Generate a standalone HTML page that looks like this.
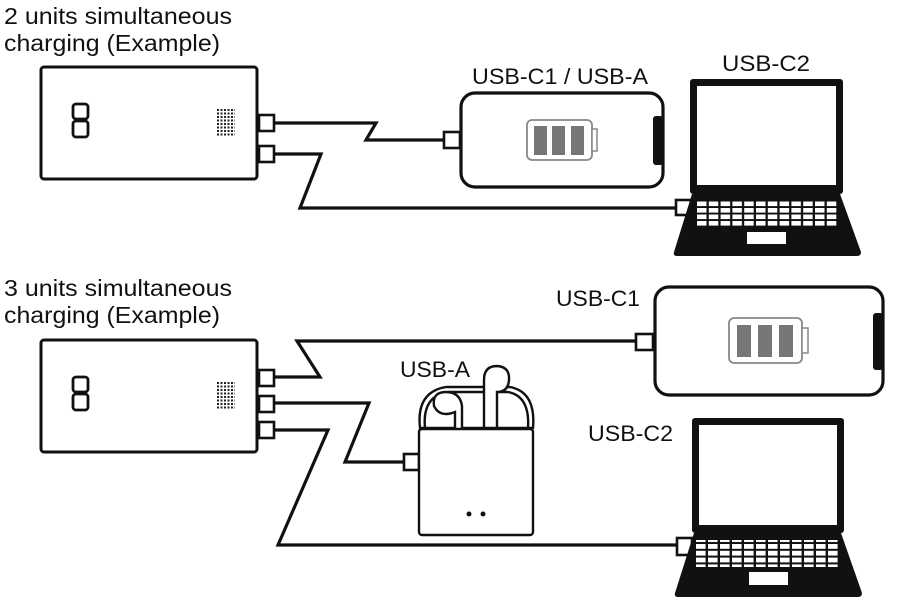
<!DOCTYPE html>
<html><head><meta charset="utf-8"><style>
html,body{margin:0;padding:0;background:#fff;}
svg{display:block;}
text{font-family:"Liberation Sans",Arial,sans-serif;fill:#111;}
</style></head><body>
<svg width="901" height="614" viewBox="0 0 901 614" xmlns="http://www.w3.org/2000/svg">
<defs>
<pattern id="dots" x="0" y="0" width="3.5" height="3.5" patternUnits="userSpaceOnUse"><rect width="2" height="2" fill="#222"/></pattern>
<pattern id="keysT" x="697" y="0" width="11.8" height="6.5" patternUnits="userSpaceOnUse"><rect width="9.5" height="4.6" fill="#fff"/></pattern>
<pattern id="keysB" x="696" y="0" width="12" height="6.8" patternUnits="userSpaceOnUse"><rect width="9.6" height="4.8" fill="#fff"/></pattern>
<g id="bank">
 <rect x="41" y="0" width="216" height="112" rx="3" fill="#fff" stroke="#111" stroke-width="3"/>
 <rect x="73" y="37" width="15" height="15" rx="3" fill="none" stroke="#111" stroke-width="2.8"/>
 <rect x="73" y="54" width="15" height="16" rx="3" fill="none" stroke="#111" stroke-width="2.8"/>
 <rect x="216" y="42" width="19" height="27" fill="url(#dots)"/>
</g>
</defs>
<text x="4" y="24" font-size="23" textLength="228" lengthAdjust="spacingAndGlyphs">2 units simultaneous</text>
<text x="4" y="51" font-size="23" textLength="216" lengthAdjust="spacingAndGlyphs">charging (Example)</text>
<text x="4" y="296" font-size="23" textLength="228" lengthAdjust="spacingAndGlyphs">3 units simultaneous</text>
<text x="4" y="323" font-size="23" textLength="216" lengthAdjust="spacingAndGlyphs">charging (Example)</text>

<!-- TOP -->
<use href="#bank" y="67"/>
<g fill="none" stroke="#111" stroke-width="3.2" stroke-linejoin="miter">
<polyline points="274,123 376,123 366,140 446,140"/>
<polyline points="274,154 321,154 300,208 676,208"/>
</g>
<g fill="#fff" stroke="#111" stroke-width="2.6">
<rect x="259" y="115" width="15" height="16"/>
<rect x="259" y="146" width="15" height="16"/>
<rect x="444" y="132" width="16" height="16"/>
<rect x="676" y="200" width="15" height="15"/>
</g>
<text x="472" y="84" font-size="22" textLength="176" lengthAdjust="spacingAndGlyphs">USB-C1 / USB-A</text>
<text x="722" y="71" font-size="22" textLength="88" lengthAdjust="spacingAndGlyphs">USB-C2</text>
<!-- phone top -->
<rect x="461" y="93" width="202" height="94" rx="14" fill="#fff" stroke="#111" stroke-width="3.2"/>
<rect x="653" y="116" width="10" height="49" rx="3" fill="#111"/>
<rect x="527" y="120" width="65" height="40" rx="5" fill="#fff" stroke="#888" stroke-width="1.8"/>
<rect x="592" y="129" width="5" height="22" fill="#fff" stroke="#888" stroke-width="1.5"/>
<rect x="534" y="126" width="13" height="29" fill="#777"/>
<rect x="552" y="126" width="13" height="29" fill="#777"/>
<rect x="571" y="126" width="13" height="29" fill="#777"/>
<!-- laptop top -->
<rect x="690" y="79" width="153" height="115" rx="3" fill="#111"/>
<rect x="697" y="86" width="139" height="99" fill="#fff"/>
<path d="M692,194 L840,194 L861,252 Q861,256 857,256 L677,256 Q673,256 674,252 Z" fill="#111"/>
<rect x="697" y="201" width="141" height="25" fill="url(#keysT)"/>
<rect x="747" y="232" width="39" height="12" fill="#fff"/>

<!-- BOTTOM -->
<use href="#bank" y="340"/>
<g fill="none" stroke="#111" stroke-width="3.2">
<polyline points="274,377 320,377 297,341 636,341"/>
<polyline points="274,403 369,403 345,462 407,462"/>
<polyline points="274,430 328,430 278,545 677,545"/>
</g>
<g fill="#fff" stroke="#111" stroke-width="2.6">
<rect x="259" y="370" width="15" height="16"/>
<rect x="259" y="396" width="15" height="16"/>
<rect x="259" y="422" width="15" height="16"/>
<rect x="404" y="454" width="15" height="16"/>
<rect x="636" y="334" width="17" height="16"/>
<rect x="677" y="538" width="15" height="17"/>
</g>
<text x="556" y="306" font-size="22" textLength="84" lengthAdjust="spacingAndGlyphs">USB-C1</text>
<text x="588" y="441" font-size="22" textLength="85" lengthAdjust="spacingAndGlyphs">USB-C2</text>
<text x="400" y="377" font-size="22" textLength="70" lengthAdjust="spacingAndGlyphs">USB-A</text>
<!-- airpods case -->
<g fill="#fff" stroke="#111" stroke-width="2.4">
<path d="M420,428 Q416,392 446,387 L510,387 Q536,392 533,428 Z"/>
<path d="M425,428 Q422,396 448,392 L508,392 Q530,396 528,428 Z"/>
<path d="M455,428 L455,412 Q440,418 434,406 Q432,392 446,392 Q460,392 462,406 L462,428"/>
<path d="M484,428 L484,380 Q484,366 497,366 Q510,367 509,380 Q508,392 497,392 L497,428 Z"/>
<rect x="419" y="429" width="114" height="106" rx="3"/>
</g>
<circle cx="469" cy="514" r="2.5" fill="#111"/>
<circle cx="483" cy="514" r="2.5" fill="#111"/>
<!-- phone bottom -->
<rect x="655" y="287" width="228" height="108" rx="14" fill="#fff" stroke="#111" stroke-width="3.2"/>
<rect x="873" y="313" width="10" height="57" rx="3" fill="#111"/>
<rect x="729" y="318" width="73" height="45" rx="5" fill="#fff" stroke="#888" stroke-width="1.8"/>
<rect x="802" y="328" width="6" height="25" fill="#fff" stroke="#888" stroke-width="1.5"/>
<rect x="737" y="325" width="14" height="32" fill="#777"/>
<rect x="758" y="325" width="14" height="32" fill="#777"/>
<rect x="779" y="325" width="14" height="32" fill="#777"/>
<!-- laptop bottom -->
<rect x="692" y="418" width="152" height="115" rx="3" fill="#111"/>
<rect x="699" y="425" width="138" height="100" fill="#fff"/>
<path d="M694,533 L841,533 L862,593 Q862,597 858,597 L678,597 Q674,597 675,593 Z" fill="#111"/>
<rect x="696" y="540" width="143" height="27" fill="url(#keysB)"/>
<rect x="749" y="572" width="39" height="13" fill="#fff"/>
</svg>
</body></html>
